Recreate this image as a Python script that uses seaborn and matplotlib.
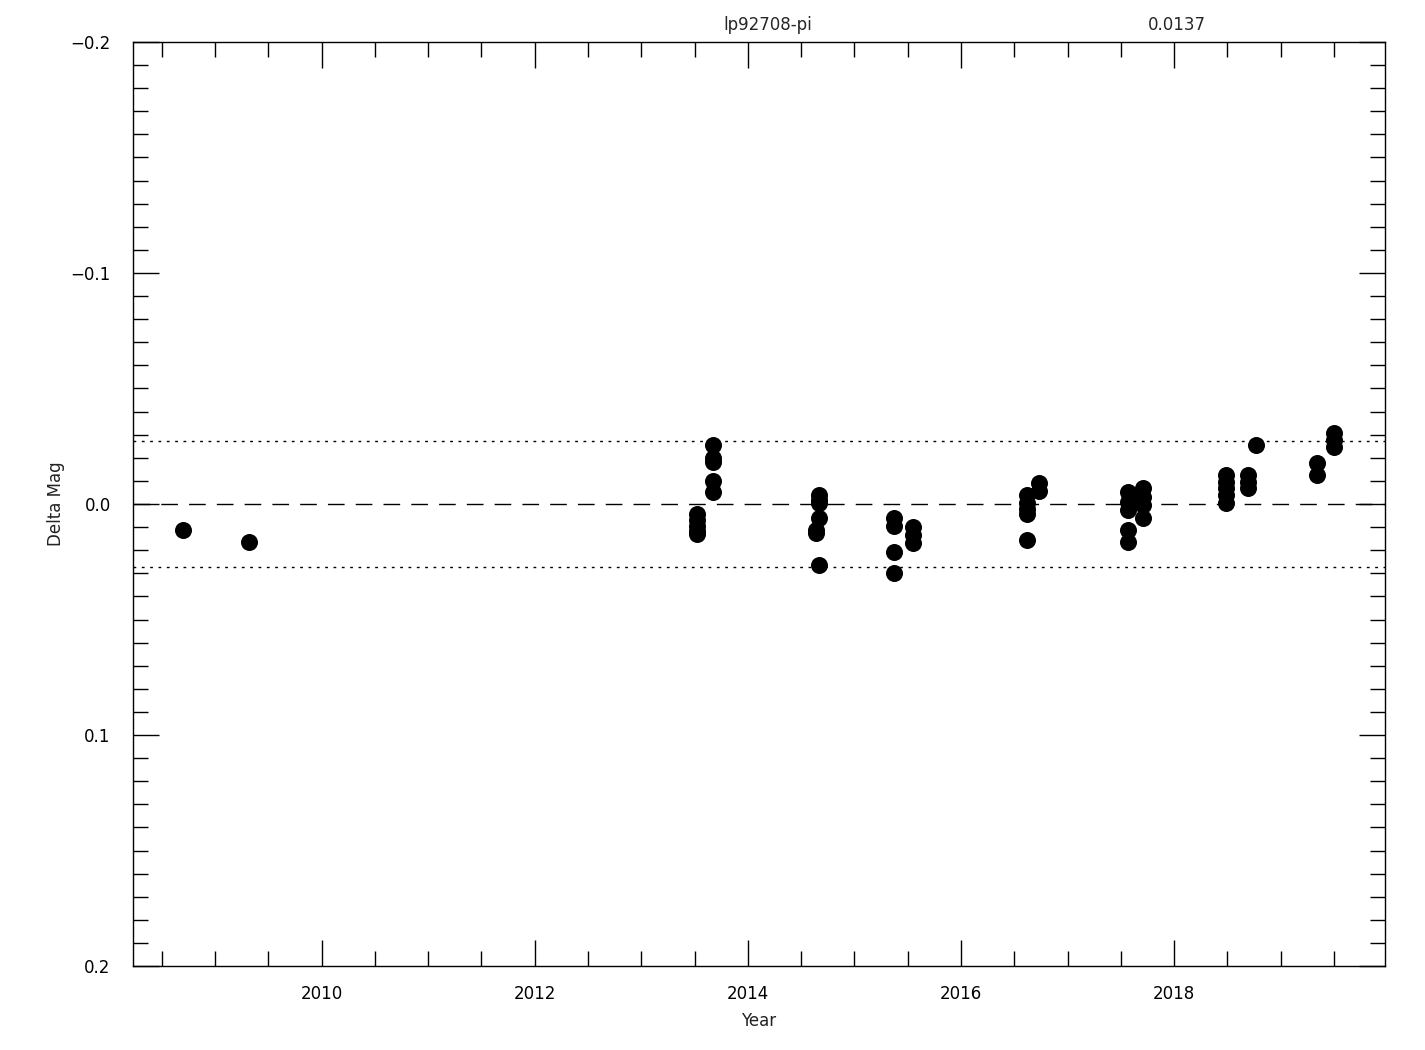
import numpy as np
import pandas as pd
import matplotlib
matplotlib.use('Agg')
import matplotlib.pyplot as plt
from matplotlib.ticker import MultipleLocator
import seaborn as sns

years = [2008.70, 2009.32,
         2013.52, 2013.52, 2013.52, 2013.52, 2013.52,
         2013.67, 2013.67, 2013.67, 2013.67, 2013.67,
         2014.67, 2014.67, 2014.67, 2014.67, 2014.64, 2014.64, 2014.67,
         2015.37, 2015.37, 2015.37, 2015.37,
         2015.55, 2015.55, 2015.55,
         2016.62, 2016.62, 2016.62, 2016.62, 2016.62, 2016.73, 2016.73,
         2017.57, 2017.57, 2017.57, 2017.57, 2017.57,
         2017.71, 2017.71, 2017.71, 2017.71,
         2018.49, 2018.49, 2018.49, 2018.49, 2018.49,
         2018.69, 2018.69, 2018.69, 2018.77,
         2019.34, 2019.34, 2019.50, 2019.50, 2019.50]
dmag = [0.0113, 0.0165,
        0.0043, 0.0070, 0.0095, 0.0115, 0.0130,
        -0.0255, -0.0200, -0.0180, -0.0100, -0.0052,
        -0.0039, -0.0017, -0.0005, 0.0060, 0.0113, 0.0126, 0.0264,
        0.0060, 0.0095, 0.0208, 0.0300,
        0.0100, 0.0134, 0.0169,
        -0.0039, -0.0004, 0.0020, 0.0045, 0.0156, -0.0091, -0.0056,
        -0.0052, -0.0009, 0.0026, 0.0113, 0.0165,
        -0.0069, -0.0030, 0.0004, 0.0060,
        -0.0126, -0.0095, -0.0069, -0.0039, -0.0004,
        -0.0126, -0.0095, -0.0069, -0.0255,
        -0.0177, -0.0126, -0.0307, -0.0277, -0.0247]

star = 'lp92708-pi'
rms = 0.0137

data = pd.DataFrame({'Year': years, 'Delta Mag': dmag})

sns.set_style('white')
plt.rcParams['font.family'] = ['DejaVu Sans']

fig = plt.figure(figsize=(14.25, 10.5), dpi=100)
ax = fig.add_axes([0.0933, 0.08, 0.8787, 0.88])

sns.scatterplot(x='Year', y='Delta Mag', data=data, ax=ax,
                color='black', s=150, edgecolor='black', linewidth=0, zorder=3)

ax.axhline(0, color='black', lw=1, ls=(0, (12, 8)))
ax.axhline(2 * rms, color='black', lw=1, ls=(0, (2, 4)))
ax.axhline(-2 * rms, color='black', lw=1, ls=(0, (2, 4)))

ax.set_xlim(2008.23, 2019.98)
ax.set_ylim(0.2, -0.2)
ax.xaxis.set_major_locator(MultipleLocator(2))
ax.xaxis.set_minor_locator(MultipleLocator(0.5))
ax.yaxis.set_major_locator(MultipleLocator(0.1))
ax.yaxis.set_minor_locator(MultipleLocator(0.01))
ax.yaxis.set_major_formatter(plt.FuncFormatter(
    lambda v, p: ('%.1f' % v).replace('-', '\u2212')))
ax.tick_params(which='both', direction='in', top=True, right=True,
               bottom=True, left=True, colors='black', labelsize=12)
ax.tick_params(axis='x', which='both', pad=14)
ax.tick_params(axis='y', which='both', pad=16)
ax.tick_params(which='major', length=19, width=1)
ax.tick_params(which='minor', length=11, width=1)
for s in ax.spines.values():
    s.set_color('black')
    s.set_linewidth(1)

ax.set_xlabel('Year', fontsize=12, color='#222222', labelpad=6)
ax.set_ylabel('Delta Mag', fontsize=12, color='#222222', labelpad=4)

fig.text(768 / 1425, 1 - 25 / 1050, star, ha='center', va='center', fontsize=12)
fig.text(1177 / 1425, 1 - 25 / 1050, '%.4f' % rms, ha='center', va='center', fontsize=12)

fig.savefig('out.png', dpi=100)
